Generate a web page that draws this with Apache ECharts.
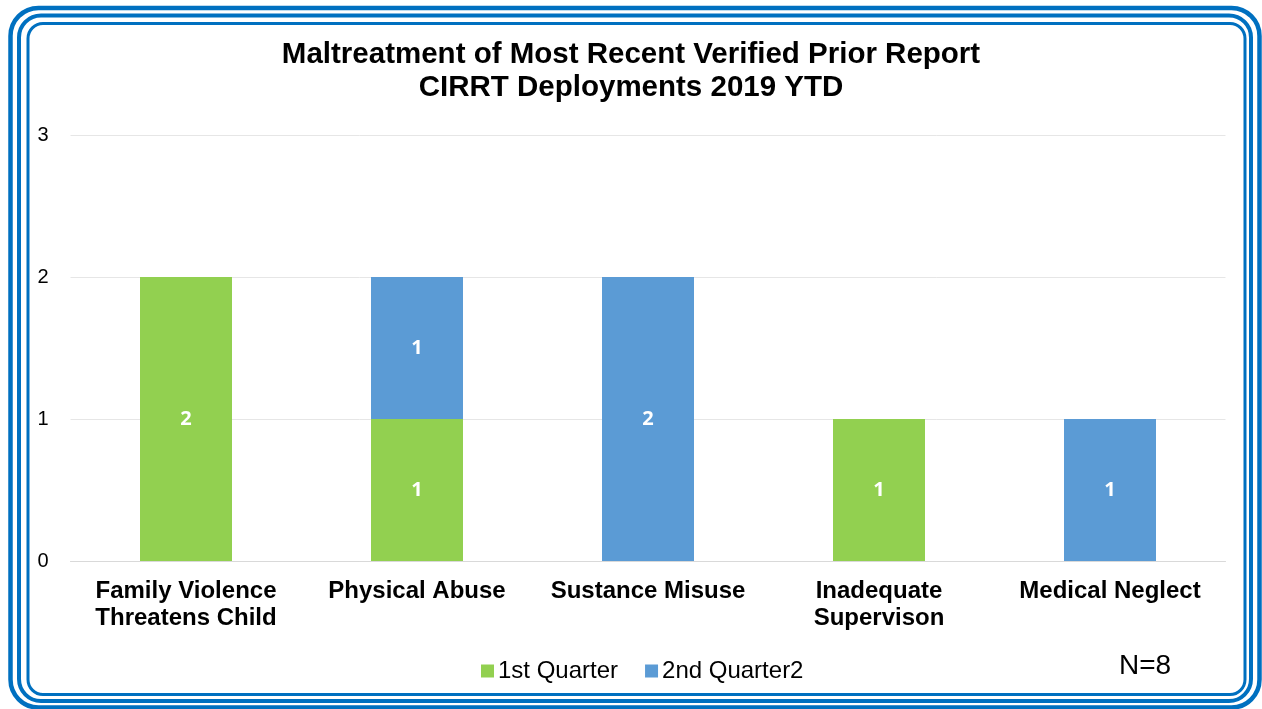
<!DOCTYPE html>
<html>
<head>
<meta charset="utf-8">
<script src="https://cdn.jsdelivr.net/npm/echarts@6/dist/echarts.min.js"></script>
<style>
html,body{margin:0;padding:0;background:#fff;}
#chart{width:1262px;height:709px;}
</style>
</head>
<body>
<div id="chart"></div>
<script>
const categories = ['Family Violence\nThreatens Child', 'Physical Abuse', 'Sustance Misuse', 'Inadequate\nSupervison', 'Medical Neglect'];
const q1Values = [2, 1, 0, 1, 0];
const q2Values = [0, 1, 2, 0, 1];
const seriesNames = ['1st Quarter', '2nd Quarter2'];
const yTicks = [0, 1, 2, 3];
const titleLines = ['Maltreatment of Most Recent Verified Prior Report', 'CIRRT Deployments 2019 YTD'];
const noteText = 'N=8';

const chart = echarts.init(document.getElementById('chart'), null, {renderer: 'canvas'});
const FONT = '"Liberation Sans", Arial, sans-serif';
const border = '#0070C0';

function frame(x1, y1, x2, y2, r, w) {
  return {
    type: 'rect', silent: true,
    shape: {x: x1, y: y1, width: x2 - x1, height: y2 - y1, r: r},
    style: {fill: 'none', stroke: border, lineWidth: w}
  };
}

const labelStyle = {
  show: true, position: 'inside', color: '#fff', fontWeight: 'bold', fontSize: 20,
  fontFamily: '"Open Sans", Calibri, sans-serif',
  formatter: p => (p.value ? String(p.value) : '')
};

chart.setOption({
  animation: false,
  backgroundColor: '#fff',
  title: {
    text: titleLines.join('\n'),
    left: 'center', top: 33,
    textStyle: {fontFamily: FONT, fontWeight: 'bold', fontSize: 29.5, lineHeight: 33, color: '#000'}
  },
  legend: {
    data: seriesNames,
    left: 476, top: 654,
    itemWidth: 13, itemHeight: 13, itemGap: 27,
    icon: 'rect',
    textStyle: {fontFamily: FONT, fontSize: 24, color: '#000', padding: [0, 0, 0, -1]}
  },
  grid: {left: 70.5, right: 36.5, top: 135, bottom: 148},
  xAxis: {
    type: 'category', data: categories,
    axisLine: {lineStyle: {color: '#D9D9D9', width: 1}},
    axisTick: {show: false},
    axisLabel: {fontFamily: FONT, fontWeight: 'bold', fontSize: 24, color: '#000', lineHeight: 27, margin: 17, interval: 0}
  },
  yAxis: {
    type: 'value', min: 0, max: 3, interval: 1,
    axisLine: {show: false}, axisTick: {show: false},
    splitLine: {lineStyle: {color: '#E6E6E6', width: 1}},
    axisLabel: {fontFamily: FONT, fontSize: 20, color: '#000', margin: 22,
      formatter: v => (yTicks.indexOf(v) >= 0 ? String(v) : '')}
  },
  series: [
    {name: seriesNames[0], type: 'bar', stack: 'q', data: q1Values, barWidth: 92,
     itemStyle: {color: '#92D050'}, label: labelStyle},
    {name: seriesNames[1], type: 'bar', stack: 'q', data: q2Values, barWidth: 92,
     itemStyle: {color: '#5B9BD5'}, label: labelStyle}
  ],
  graphic: [
    frame(10.5, 8, 1259.5, 707.5, 28, 4.5),
    frame(19, 15.5, 1251, 701, 22, 4),
    frame(28, 23.5, 1245, 694.5, 15, 3),
    {type: 'text', left: 1119, top: 652, silent: true,
     style: {text: noteText, fontFamily: FONT, fontSize: 28, fill: '#000'}}
  ]
});
</script>
</body>
</html>
